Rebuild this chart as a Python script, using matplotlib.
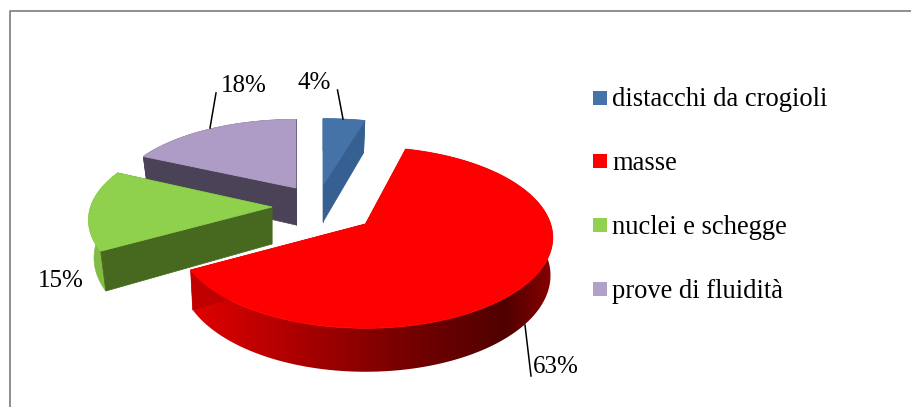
# encoding: utf-8

import numpy as np
import matplotlib

matplotlib.use('Agg')
import matplotlib.pyplot as plt
from matplotlib.patches import Polygon, Rectangle

plt.rcParams['font.family'] = ['Liberation Serif', 'DejaVu Serif']

labels = ['distacchi da crogioli', 'masse', 'nuclei e schegge', 'prove di fluidità']
values = [4, 63, 15, 18]

top_colors = ['#4573A7', '#FF0000', '#8FD04C', '#AE9CC6']
side_colors = ['#366092', '#C00000', '#46691F', '#4A4257']
wall_colors = ['#366092', None, '#83BC44', '#4A4257']
legend_colors = ['#4573A7', '#FF0000', '#92D050', '#B1A0C7']

# drawing layout, in pixels
WIDTH, HEIGHT = 911, 407
RADIUS = 187.0
FLATTEN = 88.6 / 187.0
PERSPECTIVE = 0.15
THICKNESS = 37.0
taper = [0.03, 0.012, 0.03, 0.03]
apex = [(323, 185), (365.5, 224), (272, 207), (296, 188)]
scale = [(1.03, 0.86), (0.99, 1.0), (0.97, 0.96), (0.96, 0.89)]
draw_order = [3, 2, 0, 1]

# gradient of the red outer wall, dark towards the right
wall_x = [192, 300, 400, 505, 550]
wall_r = [225, 170, 120, 80, 135]


def project(i, theta):
    # theta runs clockwise from the back of the pie, in radians
    x = RADIUS * np.sin(theta)
    z = RADIUS * np.cos(theta)
    d = 1 + PERSPECTIVE * z / RADIUS
    sx = apex[i][0] + scale[i][0] * x / d
    sy = apex[i][1] - scale[i][1] * FLATTEN * z / d
    # the lower rim is slightly narrower than the upper one
    bx = apex[i][0] + (1 - taper[i]) * (sx - apex[i][0])
    by = sy + THICKNESS / d
    return sx, sy, bx, by


def draw_slice(ax, i, start, end):
    theta = np.linspace(start, end, 160)
    sx, sy, bx, by = project(i, theta)
    ax0, ay0 = apex[i]

    # outer wall
    wall = np.c_[np.r_[sx, bx[::-1]], np.r_[sy, by[::-1]]]
    if i == 1:
        grad_x = np.arange(WIDTH)
        grad = np.interp(grad_x, wall_x, wall_r) / 255
        rgb = np.dstack([grad, np.zeros(WIDTH), np.zeros(WIDTH)])
        patch = Polygon(wall, closed=True, transform=ax.transData, facecolor='none', edgecolor='none')
        ax.add_patch(patch)
        im = ax.imshow(rgb, extent=(0, WIDTH, HEIGHT, 0), aspect='auto', interpolation='bilinear')
        im.set_clip_path(patch)
    else:
        ax.fill(wall[:, 0], wall[:, 1], facecolor=wall_colors[i], edgecolor=wall_colors[i], linewidth=0.5)

    # the two cut faces, the top face hides whichever looks away
    for k in (0, -1):
        ax.fill([ax0, sx[k], bx[k], ax0],
                [ay0, sy[k], by[k], ay0 + THICKNESS],
                facecolor=side_colors[i], edgecolor=side_colors[i], linewidth=0.5)

    ax.fill(np.r_[ax0, sx], np.r_[ay0, sy], facecolor=top_colors[i],
            edgecolor=top_colors[i], linewidth=0.6)


def main():
    fig = plt.figure(figsize=(WIDTH / 100, HEIGHT / 100), dpi=100)
    ax = fig.add_axes([0, 0, 1, 1])
    ax.axis('off')

    # chart frame
    ax.plot([10, 10, 911], [407, 10.8, 10.8], color='#868686', linewidth=1.3)

    edges = np.radians(np.r_[0, np.cumsum(values)] / sum(values) * 360.0)
    for i in draw_order:
        draw_slice(ax, i, edges[i], edges[i + 1])

    ax.set_xlim(0, WIDTH)
    ax.set_ylim(HEIGHT, 0)

    # leader lines and percentages
    ax.plot([343, 337.5], [119, 90], color='black', linewidth=1.1)
    ax.plot([210, 216], [128, 93], color='black', linewidth=1.1)
    ax.plot([525, 531], [325, 376], color='black', linewidth=1.1)
    label_pos = [(314, 83), (556, 367), (61, 281), (244, 86)]
    for v, (x, y) in zip(values, label_pos):
        ax.text(x, y, '%d%%' % v, fontsize=18, ha='center', va='center', color='black')

    # legend
    legend_y = [98, 161, 225, 289]
    for name, color, y in zip(labels, legend_colors, legend_y):
        ax.add_patch(Rectangle((593, y - 7), 14, 14, facecolor=color, edgecolor='none'))
        ax.text(612, y + 2, name, fontsize=19.1, ha='left', va='center', color='black')

    plt.savefig('out.png', dpi=100)


if __name__ == '__main__':
    main()
